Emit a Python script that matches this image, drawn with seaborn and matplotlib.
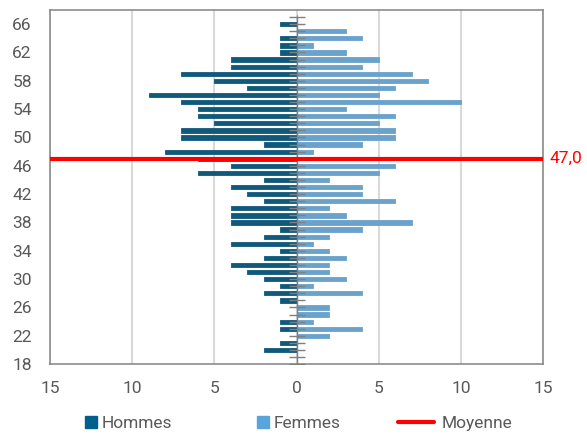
import numpy as np
import pandas as pd
import matplotlib.pyplot as plt
import seaborn as sns
from matplotlib.lines import Line2D

# age groups, top to bottom
ages = list(range(67, 18, -1))
hommes = [0, 1, 0, 1, 1, 1, 4, 4, 7, 5, 3, 9, 7, 6, 6, 5,
          7, 7, 2, 8, 6, 4, 6, 2, 4, 3, 2, 4, 4, 4, 1, 2, 4,
          1, 2, 4, 3, 2, 1, 2, 1, 0, 0, 1, 1, 0, 1, 2, 0]
femmes = [0, 0, 3, 4, 1, 3, 5, 4, 7, 8, 6, 5, 10, 3, 6, 5,
          6, 6, 4, 1, 0, 6, 5, 2, 4, 4, 6, 2, 3, 7, 4, 2, 1,
          2, 3, 2, 2, 3, 1, 4, 0, 2, 2, 1, 4, 2, 0, 0, 0]
moyenne = 47.0
ytick_ages = list(range(18, 67, 4))
xtick_vals = [-15, -10, -5, 0, 5, 10, 15]

C_H = "#005f8c"
C_F = "#5ba4db"
C_RED = "#ff0000"
GREY_TXT = "#595959"

df = pd.DataFrame({
    "age": ages * 2,
    "valeur": [-v for v in hommes] + femmes,
    "sexe": ["Hommes"] * len(ages) + ["Femmes"] * len(ages),
})

sns.set_style("white")
plt.rcParams["font.family"] = ["Roboto", "DejaVu Sans"]

fig = plt.figure(figsize=(5.87, 4.34), dpi=100)
ax = fig.add_axes([0.085, 0.161, 0.8405, 0.816])

sns.barplot(data=df, x="valeur", y="age", hue="sexe", orient="y",
            native_scale=True, dodge=False, width=0.6, linewidth=0,
            palette={"Hommes": C_H, "Femmes": C_F}, legend=False, ax=ax)
# soften the bar ends a little, like the original
for p in ax.patches:
    p.set_edgecolor(p.get_facecolor())
    p.set_linewidth(0.6)
    p.set_joinstyle("round")

# central axis with a cross tick for each age
ax.plot(np.zeros(len(ages) + 1), ages + [18], color="#808080", lw=1,
        marker="_", ms=12, mew=1, zorder=3)

ax.axhline(moyenne, color=C_RED, lw=3, zorder=4)
ax.text(1.012, moyenne, f"{moyenne:.1f}".replace(".", ","), color=C_RED,
        fontsize=12.5, va="center", ha="left",
        transform=ax.get_yaxis_transform())

ax.set_xlim(-15, 15)
ax.set_ylim(18, 68)
ax.set_xticks(xtick_vals)
ax.set_xticklabels([str(abs(v)) for v in xtick_vals])
ax.set_yticks(ytick_ages)
ax.set_yticklabels([str(a) for a in ytick_ages])
ax.tick_params(axis="x", length=0, pad=12, labelsize=12.5, labelcolor=GREY_TXT)
ax.tick_params(axis="y", length=0, pad=13, labelsize=12.5, labelcolor=GREY_TXT)
ax.set_xlabel("")
ax.set_ylabel("")
ax.grid(axis="x", color="#d9d9d9", lw=1.5)
ax.grid(axis="y", visible=False)
ax.set_axisbelow(True)
for s in ax.spines.values():
    s.set_color("#8c8c8c")
    s.set_linewidth(1.2)

legend_items = [
    (Line2D([], [], marker="s", ls="none", ms=8.5, color=C_H), "Hommes", 0.145, 0.7, 0.25),
    (Line2D([], [], marker="s", ls="none", ms=8.5, color=C_F), "Femmes", 0.438, 0.7, 0.25),
    (Line2D([], [], color=C_RED, lw=3), "Moyenne", 0.678, 2.07, 0.46),
]
for h, lab, xpos, hl, pad in legend_items:
    fig.legend([h], [lab], loc="center left", bbox_to_anchor=(xpos, 0.025),
               frameon=False, fontsize=12.5, labelcolor=GREY_TXT,
               handlelength=hl, handletextpad=pad, borderpad=0, borderaxespad=0)

fig.savefig("out.png", dpi=100)
